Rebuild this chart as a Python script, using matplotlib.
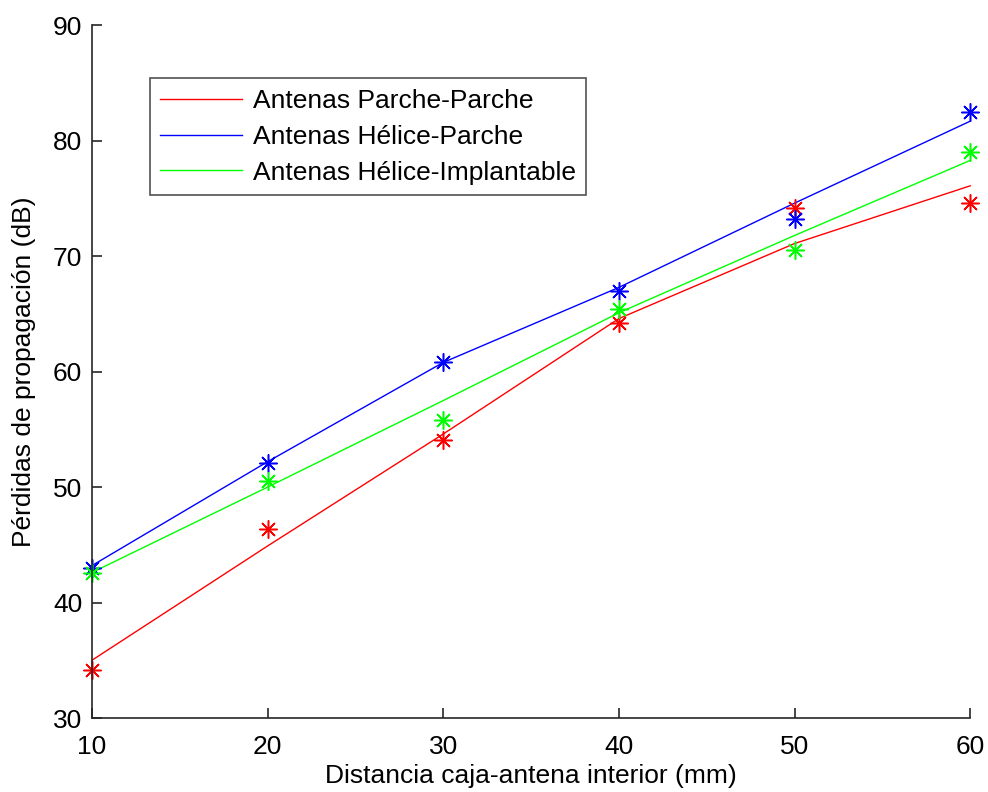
import matplotlib
matplotlib.use("Agg")
import matplotlib.pyplot as plt

plt.rcParams['font.family'] = ['Liberation Sans', 'DejaVu Sans']

distancia = [10, 20, 30, 40, 50, 60]

# Measured propagation losses (dB)
parche_parche_med = [34.2, 46.4, 54.1, 64.2, 74.2, 74.6]
helice_parche_med = [43.0, 52.1, 60.8, 67.0, 73.2, 82.5]
helice_impl_med = [42.6, 50.5, 55.8, 65.4, 70.5, 79.0]

# Fitted curves (dB)
parche_parche_fit = [35.0, 44.9, 54.6, 64.6, 71.1, 76.1]
helice_parche_fit = [43.2, 52.2, 60.8, 67.3, 74.6, 81.7]
helice_impl_fit = [42.6, 50.0, 57.5, 65.1, 71.8, 78.3]

labels = ['Antenas Parche-Parche', 'Antenas Hélice-Parche', 'Antenas Hélice-Implantable']
colors = ['#ff0000', '#0000ff', '#00ff00']

fig = plt.figure(figsize=(9.88, 7.92), dpi=100)
ax = fig.add_axes([0.093, 0.0934, 0.889, 0.8746])

fits = [parche_parche_fit, helice_parche_fit, helice_impl_fit]
meds = [parche_parche_med, helice_parche_med, helice_impl_med]

for fit, lab, c in zip(fits, labels, colors):
    ax.plot(distancia, fit, color=c, lw=1.0, label=lab, clip_on=False)
for med, c in zip(meds, colors):
    ax.plot(distancia, med, linestyle='none', marker=(8, 2, 0), markersize=13,
            markeredgecolor=c, markeredgewidth=1.1, color=c, clip_on=False)

ax.set_xlim(10, 60)
ax.set_ylim(30, 90)
ax.set_xticks(distancia)
ax.set_yticks([30, 40, 50, 60, 70, 80, 90])

for side in ['top', 'right']:
    ax.spines[side].set_visible(False)
for side in ['left', 'bottom']:
    ax.spines[side].set_linewidth(1.2)
    ax.spines[side].set_color('#262626')

ax.tick_params(direction='in', length=7, width=1.2, labelsize=19,
               color='#262626')
ax.tick_params(axis='x', pad=12)
ax.tick_params(axis='y', pad=7)

ax.set_xlabel('Distancia caja-antena interior (mm)', fontsize=19, labelpad=4)
ax.set_ylabel('Pérdidas de propagación (dB)', fontsize=19, labelpad=12)

leg = ax.legend(loc='upper left', bbox_to_anchor=(0.066, 0.9235), fontsize=19,
                frameon=True, fancybox=False, edgecolor='#262626',
                handlelength=3.1, handletextpad=0.4, borderpad=0.4,
                labelspacing=0.45, borderaxespad=0)
leg.get_frame().set_linewidth(1.2)

fig.savefig('out.png', dpi=100)
